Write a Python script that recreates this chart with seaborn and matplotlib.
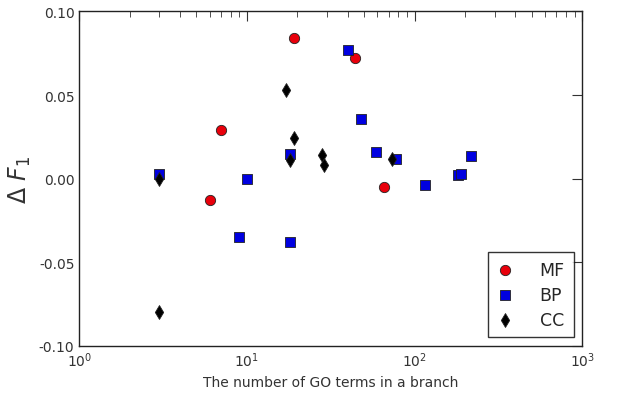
import numpy as np
import pandas as pd
import matplotlib
matplotlib.use("Agg")
import matplotlib.pyplot as plt
import seaborn as sns
from matplotlib.ticker import FormatStrFormatter, LogLocator

# values
mf_x = [19, 44, 7, 6, 66]
mf_y = [0.084, 0.072, 0.029, -0.013, -0.005]
bp_x = [3, 10, 9, 18, 18, 40, 48, 59, 78, 115, 182, 190, 218]
bp_y = [0.003, 0.0, -0.035, -0.038, 0.015, 0.077, 0.0355, 0.016, 0.012, -0.004, 0.002, 0.003, 0.0135]
cc_x = [3, 3, 17, 19, 18, 28, 29, 73]
cc_y = [0.0, -0.080, 0.053, 0.0245, 0.011, 0.014, 0.008, 0.0115]

df = pd.DataFrame({
    "x": mf_x + bp_x + cc_x,
    "y": mf_y + bp_y + cc_y,
    "branch": ["MF"] * len(mf_x) + ["BP"] * len(bp_x) + ["CC"] * len(cc_x),
})

sns.set_style("white")
plt.rcParams["font.family"] = ["DejaVu Sans"]
plt.rcParams["xtick.direction"] = "in"
plt.rcParams["ytick.direction"] = "in"

fig = plt.figure(figsize=(6.24, 4.02), dpi=100)
ax = fig.add_axes([0.127, 0.137, 0.806, 0.832])

palette = {"MF": "#e8000b", "BP": "#0000e0", "CC": "black"}
markers = {"MF": "o", "BP": "s", "CC": "d"}
sizes = {"MF": 55, "BP": 55, "CC": 50}

for name in ["MF", "BP", "CC"]:
    sub = df[df["branch"] == name]
    sns.scatterplot(data=sub, x="x", y="y", color=palette[name], marker=markers[name],
                    s=sizes[name], edgecolor="#222222", linewidth=0.6, label=name, ax=ax, zorder=3)

ax.set_xscale("log")
ax.set_xlim(1, 1000)
ax.set_ylim(-0.10, 0.10)
ax.set_yticks([-0.10, -0.05, 0.00, 0.05, 0.10])
ax.yaxis.set_major_formatter(FormatStrFormatter("%.2f"))
ax.xaxis.set_major_locator(LogLocator(base=10))
ax.xaxis.set_minor_locator(LogLocator(base=10, subs=np.arange(2, 10)))

ax.tick_params(which="both", top=True, right=True, colors="#333333", labelsize=10)
ax.tick_params(which="major", length=7, width=0.8)
ax.tick_params(which="minor", length=4, width=0.6)
for sp in ax.spines.values():
    sp.set_color("#222222")
    sp.set_linewidth(1.0)

ax.set_xlabel("The number of GO terms in a branch", fontsize=10, color="#333333")
ax.set_ylabel(r"$\Delta\ F_1$", fontsize=17, color="#333333")

leg = ax.legend(loc="lower right", fontsize=12.5, frameon=True, fancybox=False,
                edgecolor="black", borderpad=0.5, labelspacing=0.4, handletextpad=1.5,
                handlelength=1.0, borderaxespad=0.5, markerscale=1.0)
leg.get_frame().set_linewidth(1.0)

fig.savefig("out.png", dpi=100)
